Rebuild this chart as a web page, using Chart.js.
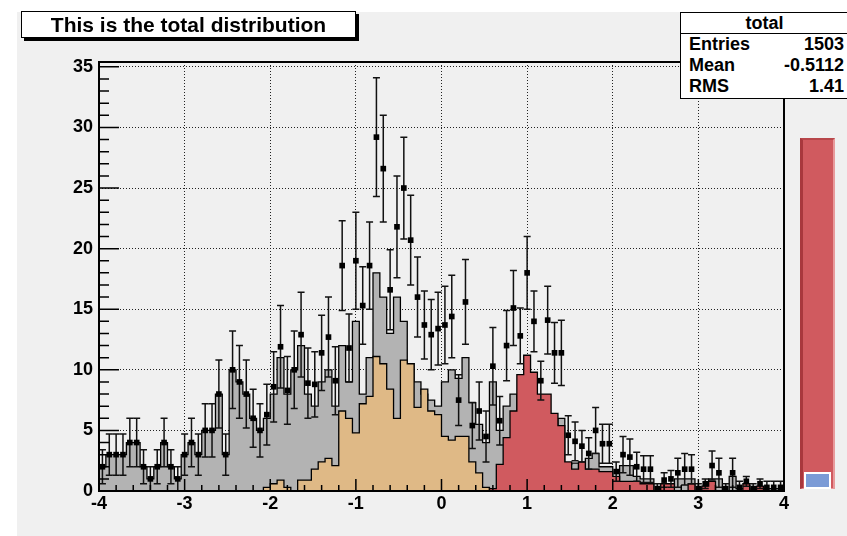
<!DOCTYPE html>
<html>
<head>
<meta charset="utf-8">
<script src="https://cdn.jsdelivr.net/npm/chart.js@4.4.1/dist/chart.umd.min.js"></script>
<style>
  body { margin: 0; background: #fff; }
  #wrap { position: relative; width: 847px; height: 536px; overflow: hidden; font-family: "Liberation Sans", Arial, sans-serif; font-weight: bold; color: #000; }
  #pad { position: absolute; left: 17px; top: 12px; width: 830px; height: 524px; background: #f0f0f0; }
  #c { position: absolute; left: 0; top: 0; }
  #title { position: absolute; left: 21px; top: 11px; width: 333px; height: 25px; background: #fff; border: 1px solid #000; box-shadow: 3px 3px 0 #000; font-size: 21px; line-height: 25px; text-align: center; }
  #stats { position: absolute; left: 680px; top: 12px; width: 180px; height: 85px; background: #fff; border: 1.5px solid #000; font-size: 18px; }
  #stats .hd { height: 20px; line-height: 20px; border-bottom: 1.5px solid #000; text-align: center; width: 167px; }
  #stats .row { position: relative; height: 21px; line-height: 21px; width: 155px; padding-left: 8px; }
  #stats .row span { position: absolute; right: 0; }
  #slider { position: absolute; left: 800px; top: 138px; width: 30px; height: 348px; background: #d05a5f; border-left: 3px solid #a8383d; border-top: 2px solid #b8474b; border-right: 2px solid #e89a9c; border-bottom: 1px solid #e89a9c; }
  #knob { position: absolute; left: 804px; top: 472px; width: 23px; height: 13px; background: #7b9bd6; border: 2px solid #fff; }
</style>
</head>
<body>
<div id="wrap">
  <div id="pad"></div>
  <canvas id="c" width="847" height="536"></canvas>
  <div id="title">This is the total distribution</div>
  <div id="stats">
    <div class="hd">total</div>
    <div class="row">Entries<span>1503</span></div>
    <div class="row">Mean<span>-0.5112</span></div>
    <div class="row">RMS<span>1.41</span></div>
  </div>
  <div id="slider"></div>
  <div id="knob"></div>
</div>
<script>
// histogram definition: 100 bins from -4 to 4
var nBins = 100;
var xLow = -4;
var xUp = 4;
var binWidth = (xUp - xLow) / nBins;

// main contributor (grey)
var mainVals = [2,3,3,3,4,4,2,1,2,4,
  2,1,3,4,3,5,5,8,3,10,
  9,8,6,5,6,8,11,8,10,12,
  8,7,9,10,7,12,9,14,8,11,
  18,16,13,16,14,10.5,9,8,7.5,7,
  9,10,9.3,11,7.3,5.5,4,9,5,7,
  8,3,7,4,1,6,5,6,2.2,2.3,
  1.3,2.7,3.1,2,2,0.4,2.1,2.1,1.2,1,
  1,0,0.2,0.3,1,1,1,0,0.3,1,
  1,0,1.2,0.2,0.2,0,0.3,0.2,0.2,0.2];

// first signal (tan)
var s1Vals = [0,0,0,0,0,0,0,0,0,0,
  0,0,0,0,0,0,0,0,0,0,
  0,0,0,0,0.3,0.6,0.9,0.3,0,0.9,
  0.9,1.8,2.4,2.7,2.1,6.6,6,4.8,7.2,7.8,
  11.1,10.5,8.4,6,10.8,10.5,6.9,8.4,6.6,6.3,
  4.5,4.2,4.5,4.5,2.4,1.5,0.3,0,0,0,
  0,0,0,0,0,0,0,0,0,0,
  0,0,0,0,0,0,0,0,0,0,
  0,0,0,0,0,0,0,0,0,0,
  0,0,0,0,0,0,0,0,0,0];

// second signal (red)
var s2Vals = [0,0,0,0,0,0,0,0,0,0,
  0,0,0,0,0,0,0,0,0,0,
  0,0,0,0,0,0,0,0,0,0,
  0,0,0,0,0,0,0,0,0,0,
  0,0,0,0,0,0,0,0,0,0,
  0,0,0,0,0,0,0,0.2,2.2,4.4,
  6.6,9.6,11.2,9.8,8,8,6.4,5.4,2.4,1.8,
  2.4,1.8,1.8,1.6,1.6,1.2,0.8,0.8,0.8,0.6,
  0.6,0,0.6,0.6,0,0,0.6,0,0.4,0.8,
  0,0,0,0,0.6,0,0.4,0,0,0];

// total distribution (points) and its errors
var totalVals = [2,3,3,3,4,4,2,1,2,4,
  2,1,3,4,3,5,5,8,3,10,
  9,8,6,5,6.3,8.6,11.9,8.3,10,12.9,
  8.9,8.8,11.4,12.7,9.1,18.6,11.8,19,15.3,18.6,
  29.2,26.6,16.6,21.8,25,20.7,16,13.7,12.9,13.4,
  13.7,14.4,7.5,15.6,5.4,6.6,4.5,10.3,5.8,12,
  15.1,12.8,18,14,9.1,14.1,11.4,11.4,4.6,4.1,
  3.7,3.1,5,3.9,3.9,1.6,3,2.8,2,1.8,
  1.8,0.2,0.9,1,1.5,1.8,1.8,0.2,0.6,2.1,
  1.5,0.2,1.5,0.3,0.8,0.2,0.6,0.3,0.3,0.3];
var totalErr = [1.4,1.7,1.7,1.7,2,2,1.4,1,1.4,2,
  1.4,1,1.7,2,1.7,2.2,2.2,2.8,1.7,3.2,
  3,2.8,2.4,2.2,2.5,2.9,3.4,2.8,3.2,3.5,
  2.9,2.7,3.1,3.3,2.8,3.7,2.8,4,3.2,3.6,
  4.9,4.4,3.3,4.2,4.2,3.7,3.3,2.8,2.9,3,
  3.2,3.4,2.1,3.5,1.9,2.4,2.1,3.2,2,2.9,
  3.1,2.3,3,2.5,1.6,2.8,2.5,2.7,1.6,1.6,
  1.3,1.3,1.9,1.6,1.6,0.8,1.5,1.5,1.2,1.1,
  1.1,0.4,0.6,0.7,1.2,1.3,1.2,0.4,0.4,1.2,
  1.2,0.4,1.2,0.5,0.4,0.4,0.4,0.5,0.5,0.5];

var yTicks = [0, 5, 10, 15, 20, 25, 30, 35];

// step outline of a histogram: one point per bin low edge + closing edge
function histSteps(vals) {
  var pts = [];
  for (var i = 0; i < nBins; i++) {
    pts.push({x: xLow + i * binWidth, y: vals[i]});
  }
  pts.push({x: xUp, y: vals[nBins - 1]});
  return pts;
}

var totalPts = [];
for (var i = 0; i < nBins; i++) {
  totalPts.push({x: xLow + (i + 0.5) * binWidth, y: totalVals[i]});
}

var lblFont = {family: "'Liberation Sans', Arial, sans-serif", weight: 'bold', size: 18};

// error bars, frame and inner ticks in ROOT style
var rootDecor = {
  id: 'rootDecor',
  beforeDatasetDraw: function(chart, args) {
    if (args.index !== 3) return;
    var ctx = chart.ctx, x = chart.scales.x, y = chart.scales.y;
    ctx.save();
    ctx.strokeStyle = '#111';
    ctx.lineWidth = 1.5;
    for (var i = 0; i < nBins; i++) {
      var xc = x.getPixelForValue(totalPts[i].x);
      var yt = y.getPixelForValue(totalVals[i] + totalErr[i]);
      var yb = y.getPixelForValue(Math.max(totalVals[i] - totalErr[i], 0));
      ctx.beginPath();
      ctx.moveTo(xc, yt); ctx.lineTo(xc, yb);
      ctx.moveTo(xc - 3.5, yt); ctx.lineTo(xc + 3.5, yt);
      if (totalVals[i] - totalErr[i] > 0) { ctx.moveTo(xc - 3.5, yb); ctx.lineTo(xc + 3.5, yb); }
      ctx.stroke();
    }
    ctx.restore();
  },
  afterDatasetsDraw: function(chart) {
    var ctx = chart.ctx, a = chart.chartArea, x = chart.scales.x, y = chart.scales.y;
    ctx.save();
    ctx.strokeStyle = '#000';
    ctx.lineWidth = 1.5;
    ctx.beginPath();
    for (var v = 0; v <= 35; v++) {
      var py = y.getPixelForValue(v);
      var len = (v % 5 === 0) ? 20 : 10;
      ctx.moveTo(a.left, py); ctx.lineTo(a.left + len, py);
    }
    for (var k = 0; k <= 40; k++) {
      var px = x.getPixelForValue(xLow + k * 0.2);
      var l2 = (k % 5 === 0) ? 12 : 6;
      ctx.moveTo(px, a.bottom); ctx.lineTo(px, a.bottom - l2);
    }
    ctx.stroke();
    ctx.lineWidth = 2;
    ctx.strokeRect(a.left, a.top, a.right - a.left, a.bottom - a.top);
    ctx.restore();
  }
};

function histDataset(label, vals, colour, order) {
  return {
    label: label,
    data: histSteps(vals),
    stepped: 'before',
    fill: 'origin',
    backgroundColor: colour,
    borderColor: '#000',
    borderWidth: 1.3,
    pointRadius: 0,
    order: order
  };
}

new Chart(document.getElementById('c'), {
  type: 'line',
  data: {
    datasets: [
      histDataset('main', mainVals, '#b3b3b3', 3),
      histDataset('s1', s1Vals, '#dfb986', 2),
      histDataset('s2', s2Vals, '#d05a5f', 1),
      {
        label: 'total',
        data: totalPts,
        showLine: false,
        pointStyle: 'rect',
        pointRadius: 4,
        pointBackgroundColor: '#000',
        pointBorderWidth: 0,
        order: 0
      }
    ]
  },
  options: {
    responsive: false,
    animation: false,
    layout: { padding: { left: 0, right: 63, top: 62, bottom: 0 } },
    plugins: { legend: { display: false }, tooltip: { enabled: false } },
    scales: {
      x: {
        type: 'linear',
        min: xLow,
        max: xUp,
        ticks: { stepSize: 1, includeBounds: false, font: lblFont, color: '#000', padding: 2, maxRotation: 0 },
        grid: { color: '#222', lineWidth: 1, drawTicks: false },
        border: { display: false, dash: [1, 2] },
        afterFit: function(s) { s.height = 45; }
      },
      y: {
        min: 0,
        max: 35.4,
        afterBuildTicks: function(s) { s.ticks = yTicks.map(function(v) { return {value: v}; }); },
        ticks: { font: lblFont, color: '#000', padding: 6 },
        grid: { color: '#222', lineWidth: 1, drawTicks: false },
        border: { display: false, dash: [1, 2] },
        afterFit: function(s) { s.width = 99; }
      }
    }
  },
  plugins: [rootDecor]
});
</script>
</body>
</html>
